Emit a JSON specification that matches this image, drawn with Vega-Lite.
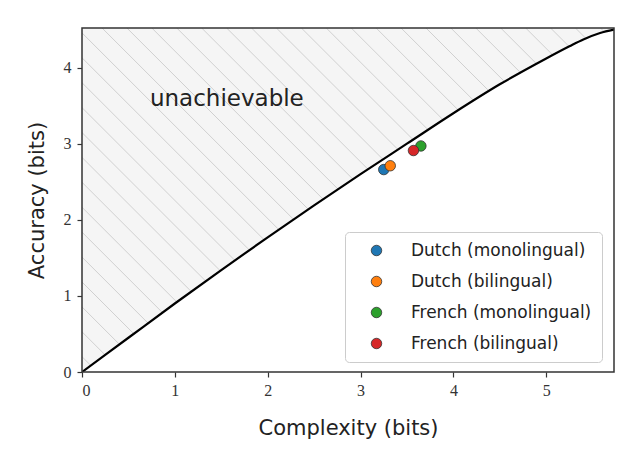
{
  "$schema": "https://vega.github.io/schema/vega-lite/v6.json",
  "width": 532,
  "height": 344,
  "autosize": {"type": "none"},
  "padding": {"left": 82, "top": 28, "right": 28, "bottom": 93},
  "background": "white",
  "config": {"view": {"stroke": null}, "font": "DejaVu Sans"},
  "datasets": {
    "curve": [
      {"complexity": 0, "accuracy": 0},
      {"complexity": 0.5, "accuracy": 0.45},
      {"complexity": 1.0, "accuracy": 0.9},
      {"complexity": 1.5, "accuracy": 1.34},
      {"complexity": 2.0, "accuracy": 1.77},
      {"complexity": 2.5, "accuracy": 2.19},
      {"complexity": 3.0, "accuracy": 2.6},
      {"complexity": 3.5, "accuracy": 3.0},
      {"complexity": 4.0, "accuracy": 3.4},
      {"complexity": 4.5, "accuracy": 3.78},
      {"complexity": 5.0, "accuracy": 4.12},
      {"complexity": 5.25, "accuracy": 4.28},
      {"complexity": 5.4, "accuracy": 4.37},
      {"complexity": 5.58, "accuracy": 4.455},
      {"complexity": 5.73, "accuracy": 4.5}
    ],
    "hatch": [
      {"top": -3.542, "bottom": 0.165},
      {"top": -3.274, "bottom": 0.433},
      {"top": -3.006, "bottom": 0.701},
      {"top": -2.737, "bottom": 0.970},
      {"top": -2.469, "bottom": 1.238},
      {"top": -2.200, "bottom": 1.507},
      {"top": -1.932, "bottom": 1.775},
      {"top": -1.663, "bottom": 2.044},
      {"top": -1.395, "bottom": 2.312},
      {"top": -1.127, "bottom": 2.580},
      {"top": -0.858, "bottom": 2.849},
      {"top": -0.590, "bottom": 3.117},
      {"top": -0.321, "bottom": 3.386},
      {"top": -0.053, "bottom": 3.654},
      {"top": 0.216, "bottom": 3.923},
      {"top": 0.484, "bottom": 4.191},
      {"top": 0.752, "bottom": 4.459},
      {"top": 1.021, "bottom": 4.728},
      {"top": 1.289, "bottom": 4.996},
      {"top": 1.558, "bottom": 5.265},
      {"top": 1.826, "bottom": 5.533},
      {"top": 2.094, "bottom": 5.801},
      {"top": 2.363, "bottom": 6.070},
      {"top": 2.631, "bottom": 6.338},
      {"top": 2.900, "bottom": 6.607},
      {"top": 3.168, "bottom": 6.875},
      {"top": 3.437, "bottom": 7.144},
      {"top": 3.705, "bottom": 7.412},
      {"top": 3.973, "bottom": 7.680},
      {"top": 4.242, "bottom": 7.949},
      {"top": 4.510, "bottom": 8.217},
      {"top": 4.779, "bottom": 8.486},
      {"top": 5.047, "bottom": 8.754},
      {"top": 5.315, "bottom": 9.022},
      {"top": 5.584, "bottom": 9.291}
    ],
    "points": [
      {"group": "Dutch (monolingual)", "complexity": 3.25, "accuracy": 2.66},
      {"group": "Dutch (bilingual)", "complexity": 3.32, "accuracy": 2.71},
      {"group": "French (monolingual)", "complexity": 3.65, "accuracy": 2.97},
      {"group": "French (bilingual)", "complexity": 3.57, "accuracy": 2.91}
    ]
  },
  "layer": [
    {
      "data": {"name": "curve"},
      "mark": {"type": "area", "fill": "#f5f5f5", "clip": true, "interpolate": "monotone"},
      "encoding": {
        "x": {
          "field": "complexity", "type": "quantitative",
          "scale": {"domain": [0, 5.73], "nice": false, "zero": false},
          "axis": {
            "title": "Complexity (bits)", "values": [0, 1, 2, 3, 4, 5], "format": "d",
            "domain": false, "grid": false,
            "labelFont": "Liberation Serif", "labelFontSize": 16, "labelColor": "#333",
            "tickColor": "#333", "tickSize": 5, "tickWidth": 1.2, "labelPadding": 5,
            "titleFont": "DejaVu Sans", "titleFontSize": 21, "titleFontWeight": "normal",
            "titleColor": "#222", "titlePadding": 19
          }
        },
        "y": {
          "field": "accuracy", "type": "quantitative",
          "scale": {"domain": [0, 4.52], "nice": false, "zero": false},
          "axis": {
            "title": "Accuracy (bits)", "values": [0, 1, 2, 3, 4], "format": "d",
            "domain": false, "grid": false,
            "labelFont": "Liberation Serif", "labelFontSize": 16, "labelColor": "#333",
            "tickColor": "#333", "tickSize": 5, "tickWidth": 1.2, "labelPadding": 6,
            "titleFont": "DejaVu Sans", "titleFontSize": 21, "titleFontWeight": "normal",
            "titleColor": "#222", "titlePadding": 16
          }
        },
        "y2": {"datum": 4.52}
      }
    },
    {
      "data": {"name": "hatch"},
      "mark": {"type": "rule", "clip": true, "color": "#d0d0d0", "strokeWidth": 1},
      "encoding": {
        "x": {"field": "top", "type": "quantitative"},
        "x2": {"field": "bottom"},
        "y": {"datum": 4.52},
        "y2": {"datum": 0}
      }
    },
    {
      "data": {"name": "curve"},
      "mark": {"type": "area", "fill": "white", "clip": true, "interpolate": "monotone"},
      "encoding": {
        "x": {"field": "complexity", "type": "quantitative"},
        "y": {"field": "accuracy", "type": "quantitative"},
        "y2": {"datum": 0}
      }
    },
    {
      "data": {"name": "curve"},
      "mark": {"type": "line", "color": "black", "strokeWidth": 2.2, "clip": true, "interpolate": "monotone"},
      "encoding": {
        "x": {"field": "complexity", "type": "quantitative"},
        "y": {"field": "accuracy", "type": "quantitative"}
      }
    },
    {
      "data": {"values": [{}]},
      "mark": {"type": "rect", "fillOpacity": 0, "stroke": "#333", "strokeWidth": 1.5},
      "encoding": {
        "x": {"datum": 0, "type": "quantitative"},
        "x2": {"datum": 5.73},
        "y": {"datum": 0, "type": "quantitative"},
        "y2": {"datum": 4.52}
      }
    },
    {
      "data": {"values": [{"label": "unachievable"}]},
      "mark": {"type": "text", "font": "DejaVu Sans", "fontSize": 23, "color": "#222", "align": "center", "baseline": "alphabetic"},
      "encoding": {
        "x": {"datum": 1.56, "type": "quantitative"},
        "y": {"datum": 3.5, "type": "quantitative"},
        "text": {"field": "label"}
      }
    },
    {
      "data": {"name": "points"},
      "mark": {"type": "point", "filled": true, "size": 110, "opacity": 1, "stroke": "#333", "strokeWidth": 0.8},
      "encoding": {
        "x": {"field": "complexity", "type": "quantitative"},
        "y": {"field": "accuracy", "type": "quantitative"},
        "color": {
          "field": "group", "type": "nominal",
          "scale": {
            "domain": ["Dutch (monolingual)", "Dutch (bilingual)", "French (monolingual)", "French (bilingual)"],
            "range": ["#1f77b4", "#ff7f0e", "#2ca02c", "#d62728"]
          },
          "legend": {
            "title": null, "orient": "none", "legendX": 263, "legendY": 204,
            "fillColor": "white", "strokeColor": "#cccccc", "cornerRadius": 4, "padding": 10,
            "labelFont": "DejaVu Sans", "labelFontSize": 17, "labelColor": "#222", "labelLimit": 400,
            "symbolSize": 110, "symbolOffset": 13, "labelOffset": 26, "rowPadding": 13,
            "symbolStrokeWidth": 0.8, "symbolStrokeColor": "#333", "symbolType": "circle"
          }
        }
      }
    }
  ]
}
